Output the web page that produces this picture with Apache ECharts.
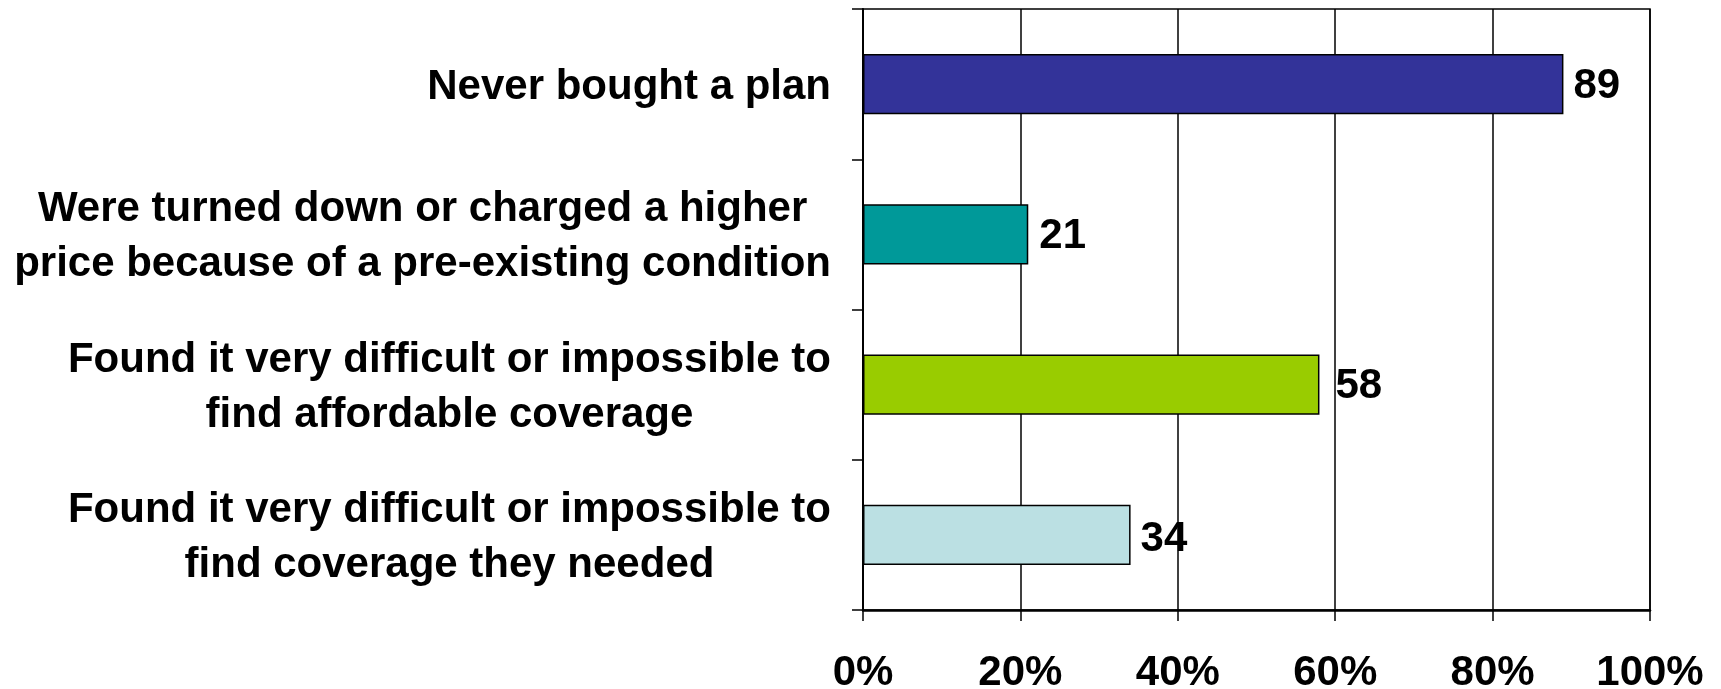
<!DOCTYPE html>
<html>
<head>
<meta charset="utf-8">
<title>Coverage problems</title>
<script src="https://cdn.jsdelivr.net/npm/echarts@6/dist/echarts.min.js"></script>
<style>
  html, body { margin: 0; padding: 0; background: #ffffff; }
  #chart { width: 1721px; height: 689px; }
</style>
</head>
<body>
<div id="chart"></div>
<script>
// Survey responses, top to bottom
const categories = [
  'Never bought a plan',
  'Were turned down or charged a higher\nprice because of a pre-existing condition',
  'Found it very difficult or impossible to\nfind affordable coverage',
  'Found it very difficult or impossible to\nfind coverage they needed'
];
const values = [89, 21, 58, 34];
const barColors = ['#333399', '#009999', '#99CC00', '#BBE0E3'];
const xTicks = [0, 20, 40, 60, 80, 100];

const FONT = '"Liberation Sans", Arial, Helvetica, sans-serif';

// per-bar value label tweaks (gap from the bar end, vertical nudge)
const labelDistance = [10, 11, 16, 10];
const labelNudge = [2, 2, 2, 5];

const chart = echarts.init(document.getElementById('chart'), null, { renderer: 'canvas' });

chart.setOption({
  backgroundColor: '#ffffff',
  animation: false,
  grid: {
    left: 863,
    top: 9,
    width: 787,
    height: 601,
    outerBoundsMode: 'none',
    containLabel: false,
    show: true,
    borderColor: '#000000',
    borderWidth: 1.5,
    backgroundColor: 'transparent'
  },
  xAxis: {
    type: 'value',
    min: xTicks[0],
    max: xTicks[xTicks.length - 1],
    interval: xTicks[1] - xTicks[0],
    axisLine: { show: true, lineStyle: { color: '#000', width: 2.5 } },
    axisTick: { show: true, length: 11, lineStyle: { color: '#000', width: 1.5 } },
    splitLine: { show: true, lineStyle: { color: '#000', width: 1.5 } },
    axisLabel: {
      formatter: '{value}%',
      margin: 63,
      verticalAlign: 'middle',
      color: '#000',
      fontFamily: FONT,
      fontWeight: 'bold',
      fontSize: 42
    }
  },
  yAxis: {
    type: 'category',
    data: categories,
    inverse: true,
    axisLine: { show: true, lineStyle: { color: '#000', width: 2 } },
    axisTick: { show: true, length: 11, lineStyle: { color: '#000', width: 1.5 } },
    splitLine: { show: false },
    axisLabel: {
      margin: 32,
      color: '#000',
      formatter: function (v) {
        return v.split('\n').map(function (l) { return '{c|' + l + '}'; }).join('\n');
      },
      rich: {
        c: {
          align: 'center',
          fontFamily: FONT,
          fontWeight: 'bold',
          fontSize: 42,
          lineHeight: 55,
          padding: [6, 0, 0, 0],
          color: '#000'
        }
      }
    }
  },
  series: [{
    type: 'bar',
    data: values.map(function (v, i) {
      return {
        value: v,
        itemStyle: { color: barColors[i] },
        label: { distance: labelDistance[i], offset: [0, labelNudge[i]] }
      };
    }),
    barCategoryGap: '60%',
    itemStyle: { borderColor: '#000', borderWidth: 1.5 },
    label: {
      show: true,
      position: 'right',
      color: '#000',
      fontFamily: FONT,
      fontWeight: 'bold',
      fontSize: 42
    }
  }]
});
</script>
</body>
</html>
